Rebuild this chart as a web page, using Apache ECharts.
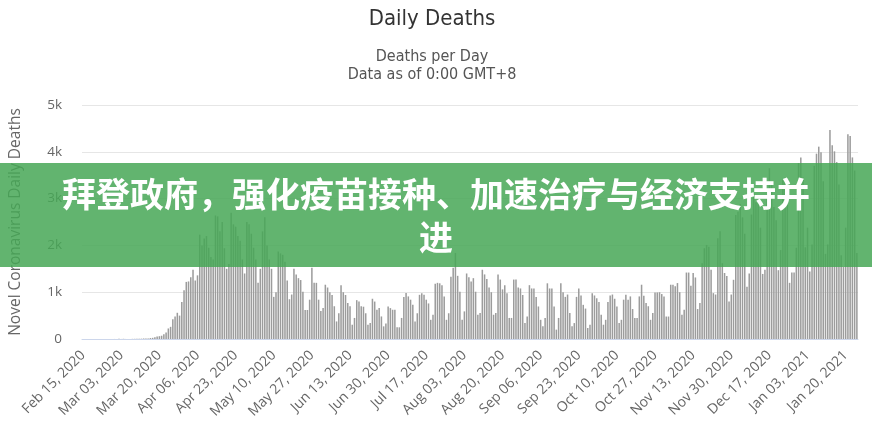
<!DOCTYPE html>
<html>
<head>
<meta charset="utf-8">
<script src="https://cdn.jsdelivr.net/npm/echarts@6/dist/echarts.min.js"></script>
<style>
html,body{margin:0;padding:0;background:#fff;}
#chart{width:872px;height:431px;}
</style>
</head>
<body>
<div id="chart"></div>
<script>
// ---- data ----
const titleText = 'Daily Deaths';
const subtitleLines = ['Deaths per Day', 'Data as of 0:00 GMT+8'];
const yAxisName = 'Novel Coronavirus Daily Deaths';
const bannerLines = ['拜登政府，强化疫苗接种、加速治疗与经济支持并', '进'];
const monthNames = ['Jan','Feb','Mar','Apr','May','Jun','Jul','Aug','Sep','Oct','Nov','Dec'];
const firstDay = { year: 2020, month: 1, day: 15 }; // Feb 15, 2020 (month 0-based)
const yTicks = [0, 1000, 2000, 3000, 4000, 5000];
const yTickLabels = ['0', '1k', '2k', '3k', '4k', '5k'];

// daily deaths, one value per day from Feb 15, 2020 to Jan 25, 2021
const deaths = [
  0,0,0,0,0,0,0,
  0,0,0,0,0,0,0,
  1,1,4,1,4,1,2,
  2,3,4,4,8,7,11,
  10,12,20,25,40,56,60,
  70,100,140,225,260,420,480,
  560,500,790,1040,1220,1230,1320,
  1480,1250,1360,2230,2000,2150,2200,
  1950,1750,1700,2640,2620,2300,2500,
  1940,1500,1600,2700,2450,2400,2200,
  2100,1700,1400,2500,2450,2250,1950,
  1700,1200,1500,2300,2600,2000,1700,
  1500,900,1000,1870,1830,1800,1650,
  1250,850,950,1500,1380,1300,1260,
  1010,620,620,840,1520,1200,1200,
  840,600,660,1160,1100,1000,940,
  700,375,550,1150,1000,940,770,
  700,305,450,830,800,700,690,
  550,305,340,860,800,625,660,
  482,270,330,695,660,625,625,
  250,250,450,900,985,910,840,
  730,375,550,944,980,944,840,
  760,410,520,1180,1200,1190,1150,
  910,410,550,1330,1520,1840,1350,
  1010,410,590,1400,1320,1230,1300,
  1010,518,554,1480,1380,1280,1100,
  1000,518,554,1380,1270,1060,1150,
  980,450,450,1270,1270,1100,1080,
  940,340,480,1150,1080,1080,900,
  695,410,270,450,1190,1080,1080,
  695,200,450,1190,1000,900,950,
  554,270,340,900,1080,930,730,
  650,235,305,980,930,870,790,
  520,305,410,790,930,950,860,
  695,340,410,840,945,840,910,
  640,450,450,910,1160,925,770,
  700,410,555,995,995,1000,960,
  910,480,480,1160,1160,1125,1195,
  1000,518,625,1420,1420,1140,1410,
  1315,640,770,1620,1940,2010,1970,
  1480,980,950,2155,2300,1620,1410,
  1345,800,950,1265,2650,2720,2880,
  2600,2250,1115,1400,2660,3120,2920,
  2900,2380,1390,1480,3010,3650,3340,
  2820,2540,1470,1900,3400,3450,2920,
  1200,1420,1420,1950,3760,3880,3450,
  1960,2380,1440,2020,3700,3960,4110,
  3990,3370,1820,2020,4466,4140,4010,
  3780,3300,1790,1540,2380,4377,4340,
  3880,3600,1840
];

// category labels: one date per value
const categories = deaths.map(function (v, i) {
  const d = new Date(Date.UTC(firstDay.year, firstDay.month, firstDay.day + i));
  const dd = String(d.getUTCDate()).padStart(2, '0');
  return monthNames[d.getUTCMonth()] + ' ' + dd + ', ' + d.getUTCFullYear();
});

const chart = echarts.init(document.getElementById('chart'), null, { renderer: 'canvas' });
const labelFont = '"Open Sans", "DejaVu Sans", sans-serif';
const titleFont = '"Liberation Sans Narrow", "DejaVu Sans Condensed", "Open Sans", sans-serif';

chart.setOption({
  animation: false,
  backgroundColor: '#ffffff',
  grid: { left: 77, right: 14, top: 105, bottom: 92, containLabel: false },
  xAxis: {
    type: 'category',
    data: categories,
    boundaryGap: true,
    axisLine: { show: true, lineStyle: { color: '#ccd6eb', width: 1 } },
    axisTick: { show: false },
    axisLabel: {
      interval: 16,
      rotate: 45,
      margin: 14,
      fontSize: 14,
      color: '#666666',
      fontFamily: labelFont
    },
    splitLine: { show: false }
  },
  yAxis: {
    type: 'value',
    min: yTicks[0],
    max: yTicks[yTicks.length - 1],
    interval: yTicks[1] - yTicks[0],
    name: yAxisName,
    nameLocation: 'middle',
    nameGap: 58,
    nameRotate: 90,
    nameTextStyle: { fontSize: 15.5, color: '#666666', fontFamily: labelFont },
    axisLine: { show: false },
    axisTick: { show: false },
    axisLabel: {
      margin: 20,
      fontSize: 13.5,
      color: '#666666',
      fontFamily: labelFont,
      formatter: function (v) { return yTickLabels[yTicks.indexOf(v)]; }
    },
    splitLine: { lineStyle: { color: '#e6e6e6', width: 1 } }
  },
  series: [{
    type: 'bar',
    data: deaths,
    barWidth: '68%',
    itemStyle: { color: '#9c9c9c' },
    emphasis: { disabled: true },
    silent: true
  }],
  graphic: [
    {
      type: 'text',
      x: 432,
      y: 19,
      style: {
        text: titleText,
        fill: '#333333',
        font: '22px ' + titleFont,
        align: 'center',
        verticalAlign: 'middle'
      }
    },
    {
      type: 'text',
      x: 432,
      y: 66,
      style: {
        text: subtitleLines.join('\n'),
        fill: '#555555',
        font: '16px ' + titleFont,
        lineHeight: 18,
        align: 'center',
        verticalAlign: 'middle'
      }
    },
    {
      type: 'rect',
      z: 100,
      shape: { x: 0, y: 163, width: 872, height: 104 },
      style: { fill: 'rgba(70,167,86,0.85)' }
    },
    {
      type: 'text',
      z: 101,
      x: 436,
      y: 216,
      style: {
        text: bannerLines.join('\n'),
        fill: '#ffffff',
        font: 'bold 34px "Noto Sans CJK SC", sans-serif',
        lineHeight: 43,
        align: 'center',
        verticalAlign: 'middle'
      }
    }
  ]
});
</script>
</body>
</html>
